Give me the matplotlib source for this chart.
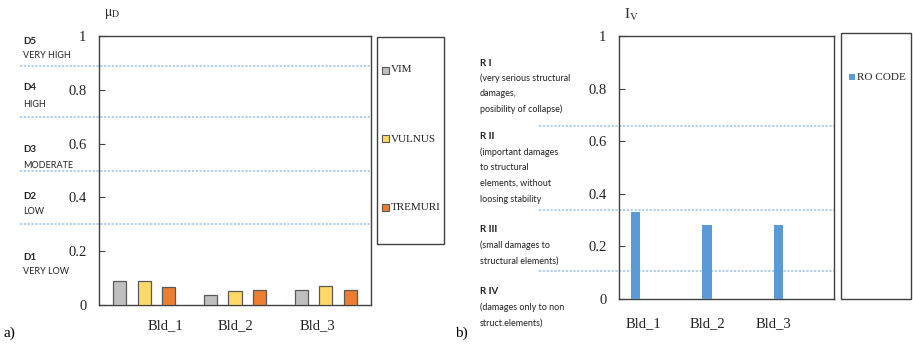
import numpy as np
import matplotlib
matplotlib.use("Agg")
import matplotlib.pyplot as plt
from matplotlib.patches import Rectangle

# ---- data ----
buildings = ["Bld_1", "Bld_2", "Bld_3"]
methods = ["VIM", "VULNUS", "TREMURI"]
mu_d = {
    "VIM": [0.089, 0.036, 0.057],
    "VULNUS": [0.089, 0.053, 0.070],
    "TREMURI": [0.066, 0.057, 0.057],
}
method_colors = ["#BFBFBF", "#FFD966", "#ED7D31"]
ro_code = [0.33, 0.28, 0.28]
ro_color = "#5B9BD5"

damage_limits = [0.3, 0.5, 0.7, 0.89]
damage_labels = [("D1", "VERY LOW"), ("D2", "LOW"), ("D3", "MODERATE"),
                 ("D4", "HIGH"), ("D5", "VERY HIGH")]
risk_limits = [0.105, 0.34, 0.656]
risk_labels = [
    ("R I", ["(very serious structural", "damages,", "posibility of collapse)"]),
    ("R II", ["(important damages", "to structural", "elements, without", "loosing stability"]),
    ("R III", ["(small damages to", "structural elements)"]),
    ("R IV", ["(damages only to non", "struct.elements)"]),
]
yticks = [0, 0.2, 0.4, 0.6, 0.8, 1]
ytick_labels = ["0", "0.2", "0.4", "0.6", "0.8", "1"]

W, H = 913, 346
SERIF = "Liberation Serif"
SANS = "Lato"
plt.rcParams["font.family"] = [SERIF, "DejaVu Serif"]
plt.rcParams["mathtext.fontset"] = "stix"
DASH = "#9DC3E6"
EDGE = "#404040"

fig = plt.figure(figsize=(W / 100, H / 100), dpi=100)


def fx(x):
    return x / W


def fy(y):
    return 1 - y / H


def make_axes(l, t, r, b):
    ax = fig.add_axes([fx(l), fy(b), fx(r) - fx(l), fy(t) - fy(b)])
    for s in ax.spines.values():
        s.set_color(EDGE)
        s.set_linewidth(1.0)
    ax.set_ylim(0, 1)
    ax.set_xlim(-0.5, 2.5)
    ax.set_yticks(yticks)
    ax.set_yticklabels(ytick_labels)
    ax.tick_params(axis="y", direction="in", length=4, color=EDGE, pad=9,
                   labelsize=10.5, labelcolor="#222222")
    ax.tick_params(axis="x", length=0, labelsize=10.5, labelcolor="#222222")
    return ax


# ---------------- panel a ----------------
axa = make_axes(99, 36, 371, 305)
x = np.arange(len(buildings))
offsets = [-0.27, 0, 0.27]
for m, off, c in zip(methods, offsets, method_colors):
    axa.bar(x + off, mu_d[m], width=0.145, color=c, edgecolor="#595959",
            linewidth=0.9, zorder=3)
axa.set_xticks(x + np.array([0.23, 0.0, -0.09]))
axa.set_xticklabels(buildings)
axa.tick_params(axis="x", pad=10)

for v in damage_limits:
    axa.plot([-0.5 - 79 / 90.7, 2.5], [v, v], ls=(0, (1.5, 1.0)), color=DASH,
             lw=1.1, clip_on=False, zorder=2)

label_y = [(257, 272), (196, 212), (150, 165), (88, 104), (42, 56)]
for (code, name), (y1, y2) in zip(damage_labels, label_y):
    fig.text(fx(23), fy(y1), code, fontsize=7, fontweight="bold",
             family=SANS, va="center", ha="left", color="#222222")
    fig.text(fx(23), fy(y2), name, fontsize=6.5, family=SANS,
             va="center", ha="left", color="#222222")

fig.text(fx(104), fy(14), r"$\mathrm{\mu}_{\mathrm{D}}$", fontsize=10,
         va="center", ha="left", color="#333333")

# legend a
fig.patches.append(Rectangle((fx(377), fy(244)), fx(444) - fx(377),
                             fy(37) - fy(244), transform=fig.transFigure,
                             fill=False, edgecolor=EDGE, lw=1.0))
for m, c, yy in zip(methods, method_colors, [70, 139, 208]):
    fig.patches.append(Rectangle((fx(382), fy(yy + 3.5)), fx(7), 7 / H,
                                 transform=fig.transFigure, facecolor=c,
                                 edgecolor="#595959", lw=0.8))
    fig.text(fx(391), fy(yy), m, fontsize=8, va="center",
             ha="left", color="#222222")

fig.text(fx(4), fy(333), "a)", fontsize=11, va="center", ha="left")

# ---------------- panel b ----------------
axb = make_axes(619, 36, 834, 299)
axb.bar(x - 0.27, ro_code, width=0.13, color=ro_color, zorder=3)
axb.set_xticks(x + np.array([-0.16, -0.27, -0.35]))
axb.set_xticklabels(buildings)
axb.tick_params(axis="x", pad=13)

for v in risk_limits:
    axb.plot([-0.5 - 80 / 71.7, 2.5], [v, v], ls=(0, (1.5, 1.0)), color=DASH,
             lw=1.1, clip_on=False, zorder=2)

risk_y = [63, 137, 230, 292]
for (code, lines), y0 in zip(risk_labels, risk_y):
    fig.text(fx(480), fy(y0), code, fontsize=7, fontweight="bold",
             family=SANS, va="center", ha="left", color="#222222")
    for i, ln in enumerate(lines):
        fig.text(fx(480), fy(y0 + 15.5 * (i + 1)), ln, fontsize=6.5,
                 family=SANS, va="center", ha="left", color="#222222")

fig.text(fx(624), fy(15), r"$\mathrm{I}_{\mathrm{V}}$", fontsize=11,
         va="center", ha="left", color="#333333")

# legend b
fig.patches.append(Rectangle((fx(841), fy(299)), fx(911) - fx(841),
                             fy(33) - fy(299), transform=fig.transFigure,
                             fill=False, edgecolor=EDGE, lw=1.0))
fig.patches.append(Rectangle((fx(849), fy(80)), fx(6), 6 / H,
                             transform=fig.transFigure, facecolor=ro_color,
                             lw=0))
fig.text(fx(857), fy(77), "RO CODE", fontsize=8, va="center",
         ha="left", color="#222222")

fig.text(fx(455), fy(333), "b)", fontsize=11, va="center", ha="left")

fig.savefig("out.png", dpi=100)
